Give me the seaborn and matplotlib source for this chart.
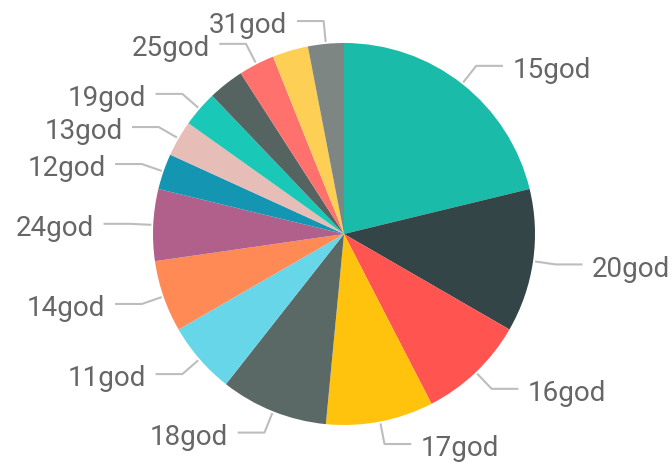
import numpy as np
import matplotlib
matplotlib.use("Agg")
import matplotlib.pyplot as plt
import seaborn as sns

# DATA
categories = [
    "15god", "20god", "16god", "17god", "18god",
    "11god", "14god", "24god", "12god", "13god",
    "19god", None, "25god", None, "31god",
]
counts = [7, 4, 3, 3, 3, 2, 2, 2, 1, 1, 1, 1, 1, 1, 1]

colors = [
    "#1ABBA8", "#344548", "#FF5450", "#FFC30E", "#5A6966",
    "#66D6E8", "#FF8A55", "#B0608A", "#1496B2", "#E6BDB7",
    "#1AC8B8", "#566461", "#FF716C", "#FDCF55", "#7D8683",
]

# STYLE SETTINGS
sns.set_style("white")
plt.rcParams["font.family"] = ["Roboto", "DejaVu Sans"]

fig = plt.figure(figsize=(6.72, 4.64), dpi=100)
ax = fig.add_axes([0, 0, 1, 1])

wedges, _ = ax.pie(
    counts,
    colors=colors,
    startangle=90,
    counterclock=False,
    radius=1.0,
    wedgeprops={"linewidth": 0},
)

# leader lines + labels
for wedge, label in zip(wedges, categories):
    if label is None:
        continue
    mid = np.deg2rad((wedge.theta1 + wedge.theta2) / 2)
    cx, cy = np.cos(mid), np.sin(mid)
    side = 1 if cx >= 0 else -1
    start = (1.01 * cx, 1.01 * cy)
    elbow = (1.12 * cx, 1.12 * cy)
    end = (elbow[0] + side * 0.14, elbow[1])
    ax.plot(
        [start[0], elbow[0], end[0]],
        [start[1], elbow[1], end[1]],
        color="#BDBDBD",
        linewidth=1.5,
        solid_capstyle="butt",
    )
    ax.text(
        end[0] + side * 0.05,
        end[1] - 0.02,
        label,
        ha="left" if side > 0 else "right",
        va="center",
        fontsize=20,
        color="#666666",
    )

r_px = 191
ax.set_xlim(-344 / r_px, (672 - 344) / r_px)
ax.set_ylim(-(464 - 235) / r_px, 235 / r_px)
ax.set_aspect("equal", adjustable="box")
ax.axis("off")

plt.savefig("out.png", dpi=100)
plt.close()
